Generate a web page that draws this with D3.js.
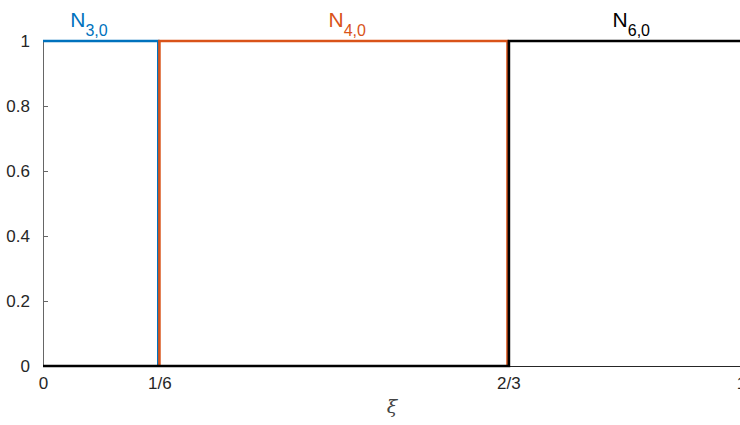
<!DOCTYPE html>
<html>
<head>
<meta charset="utf-8">
<script src="https://cdn.jsdelivr.net/npm/d3@7"></script>
<style>
  body { margin: 0; background: #fff; }
  svg { font-family: "Liberation Sans", Arial, Helvetica, sans-serif; }
</style>
</head>
<body>
<div id="chart"></div>
<script>
// basis functions N_{i,0} (piecewise constant), breakpoints
const n30X = [0, 0.1652, 0.1652];
const n30Y = [1, 1, 0];
const n40X = [0.1668, 0.1668, 0.6655, 0.6655];
const n40Y = [0, 1, 1, 0];
const n60X = [0, 0.6675, 0.6675, 1];
const n60Y = [0, 0, 1, 1];

const xTicks = [0, 1/6, 2/3, 1];
const xTickLabels = ['0', '1/6', '2/3', '1'];
const yTicks = [0, 0.2, 0.4, 0.6, 0.8, 1];

const labels = [
  { base: 'N', sub: '3,0', x: 0.039, color: '#0072BD' },
  { base: 'N', sub: '4,0', x: 0.409, color: '#D95319' },
  { base: 'N', sub: '6,0', x: 0.816, color: '#000000' }
];

const svgWidth = 740;
const svgHeight = 425;
const margin = { top: 41, right: -1, bottom: 59, left: 43 };
const width = svgWidth - margin.left - margin.right;
const height = svgHeight - margin.top - margin.bottom;

const svg = d3.select('#chart')
  .append('svg')
  .attr('width', svgWidth)
  .attr('height', svgHeight);

const g = svg.append('g')
  .attr('transform', `translate(${margin.left}, ${margin.top})`);

const xScale = d3.scaleLinear().domain([0, 1]).range([0, width]);
const yScale = d3.scaleLinear().domain([0, 1]).range([height, 0]);

// y axis, ticks point inward like matlab
const yAxis = d3.axisLeft(yScale)
  .tickValues(yTicks)
  .tickSizeInner(-5)
  .tickSizeOuter(0)
  .tickPadding(13)
  .tickFormat(d => d3.format('~g')(d));

const yG = g.append('g').call(yAxis);
yG.attr('font-size', null);
yG.select('.domain').attr('stroke', '#666').attr('stroke-width', 1);
yG.selectAll('line').attr('stroke', '#666');
yG.selectAll('text').style('font-size', '17px').attr('fill', '#262626');

// x axis
const xAxis = d3.axisBottom(xScale)
  .tickValues(xTicks)
  .tickSize(0)
  .tickPadding(11)
  .tickFormat((d, i) => xTickLabels[i]);

const xG = g.append('g')
  .attr('transform', `translate(0, ${height})`)
  .call(xAxis);
xG.attr('font-size', null);
xG.select('.domain').attr('stroke', '#262626').attr('stroke-width', 1);
xG.selectAll('text').style('font-size', '17px').attr('fill', '#262626');

// x label
g.append('text')
  .attr('x', width / 2)
  .attr('y', height + 47)
  .attr('text-anchor', 'middle')
  .style('font-size', '19px')
  .attr('font-style', 'italic')
  .attr('font-family', '"DejaVu Serif", serif')
  .attr('fill', '#444')
  .text('ξ');

// lines
const line = d3.line()
  .x(d => xScale(d[0]))
  .y(d => yScale(d[1]));

const series = [
  { xs: n30X, ys: n30Y, color: '#0072BD' },
  { xs: n40X, ys: n40Y, color: '#D95319' },
  { xs: n60X, ys: n60Y, color: '#000000' }
];

series.forEach(s => {
  g.append('path')
    .datum(s.xs.map((x, i) => [x, s.ys[i]]))
    .attr('d', line)
    .attr('fill', 'none')
    .attr('stroke', s.color)
    .attr('stroke-width', 2.6);
});

// labels N_{i,0}
labels.forEach(l => {
  const t = g.append('text')
    .attr('x', xScale(l.x))
    .attr('y', -14)
    .attr('fill', l.color)
    .style('font-size', '21px');
  t.append('tspan').text(l.base);
  t.append('tspan')
    .attr('dy', 9)
    .style('font-size', '16px')
    .text(l.sub);
});
</script>
</body>
</html>
